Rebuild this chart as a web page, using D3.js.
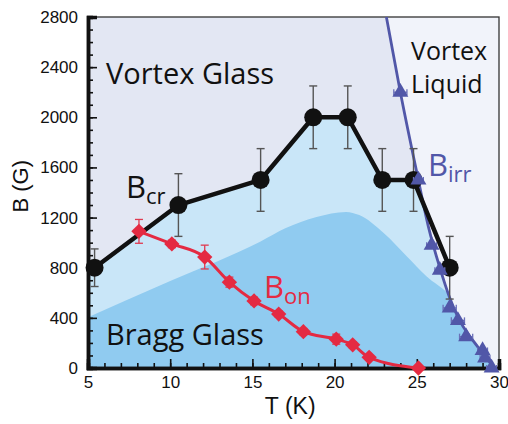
<!DOCTYPE html>
<html>
<head>
<meta charset="utf-8">
<script src="https://cdn.jsdelivr.net/npm/d3@7"></script>
<style>
  body { margin: 0; background: #fff; }
  svg text { font-family: "Liberation Sans", Arial, sans-serif; }
  .lbl { font-family: "Open Sans", Lato, sans-serif; }
</style>
</head>
<body>
<div id="fig"></div>
<script>
// B_cr (black circles)
var crT = [5.4, 10.5, 15.5, 18.7, 20.8, 22.9, 24.8, 27.0]
var crB = [800, 1300, 1500, 2000, 2000, 1500, 1500, 800]
var crErr = [150, 250, 250, 250, 250, 250, 250, 250]

// B_on (red diamonds)
var onT = [8.1, 10.1, 12.1, 13.6, 15.1, 16.6, 18.1, 20.1, 21.1, 22.1, 25.1]
var onB = [1090, 990, 885, 685, 535, 430, 290, 230, 185, 85, 0]
var onErr = [95, 30, 95, 40, 30, 25, 25, 40, 25, 20, 0]

// B_irr (blue triangles, horizontal error bars)
var irrT = [24.0, 25.1, 25.9, 26.4, 27.0, 27.5, 28.0, 29.0, 29.15, 29.55]
var irrB = [2200, 1500, 980, 780, 480, 380, 250, 140, 80, 0]
var irrErr = [0.4, 0.3, 0.3, 0.3, 0.4, 0.4, 0.4, 0.3, 0.3, 0.3]

// B_irr fit curve
var fitT = [23.15, 24.0, 25.0, 25.7, 26.4, 27.0, 27.6, 28.3, 29.0, 29.7]
var fitB = [2800, 2200, 1560, 1130, 800, 560, 380, 240, 120, 0]

// Bragg glass boundary
var bgT = [5, 10, 15.5, 17, 18.9, 20.7, 21.5, 23, 24.4, 25.6, 26.9, 30]
var bgB = [405, 694, 1010, 1115, 1205, 1245, 1220, 1075, 890, 730, 595, 0]

// left edge of the B_cr region
var crEdgeT = 5, crEdgeB = 760

var xTicks = [5, 10, 15, 20, 25, 30]
var yTicks = [0, 400, 800, 1200, 1600, 2000, 2400, 2800]

var margin = {top: 17, left: 88, right: 9, bottom: 56}
var W = 508, H = 424
var w = W - margin.left - margin.right
var h = H - margin.top - margin.bottom

var svg = d3.select("#fig").append("svg")
  .attr("width", W).attr("height", H)

var g = svg.append("g").attr("transform", `translate(${margin.left},${margin.top})`)

var x = d3.scaleLinear().domain([5, 30]).range([0, w])
var y = d3.scaleLinear().domain([0, 2800]).range([h, 0])

svg.append("defs").append("clipPath").attr("id", "plotClip")
  .append("rect").attr("width", w).attr("height", h)

var shade = g.append("g").attr("clip-path", "url(#plotClip)")

// vortex glass background
shade.append("rect").attr("width", w).attr("height", h).style("fill", "#e3e7f3")

// region under B_cr
var crPts = [[crEdgeT, crEdgeB]].concat(crT.map((t, i) => [t, crB[i]]))
shade.append("path")
  .attr("d", d3.area().x(d => x(d[0])).y0(y(0)).y1(d => y(d[1]))(crPts))
  .style("fill", "#c9e6f8")

// bragg glass region
var bgPts = bgT.map((t, i) => [t, bgB[i]])
shade.append("path")
  .attr("d", d3.area().x(d => x(d[0])).y0(y(0)).y1(d => y(d[1])).curve(d3.curveMonotoneX)(bgPts))
  .style("fill", "#90cbf0")

// vortex liquid region
var fitPts = fitT.map((t, i) => [t, fitB[i]])
var fitLine = d3.line().x(d => x(d[0])).y(d => y(d[1])).curve(d3.curveMonotoneX)
shade.append("path")
  .attr("d", fitLine(fitPts) + `L${x(30)},${y(0)}L${x(30)},${y(2800)}Z`)
  .style("fill", "#f1f3fa")

// frame (top / right)
g.append("rect").attr("width", w).attr("height", h)
  .style("fill", "none").style("stroke", "#333").style("stroke-width", 1.3)

// axes
var xMinor = g.append("g").attr("transform", `translate(0,${h})`)
  .call(d3.axisBottom(x).ticks(25).tickSize(-5).tickFormat(""))
var xAxis = g.append("g").attr("transform", `translate(0,${h})`)
  .call(d3.axisBottom(x).tickValues(xTicks).tickSize(-9).tickPadding(6).tickFormat(d3.format("d")))
var yMinor = g.append("g")
  .call(d3.axisLeft(y).ticks(28).tickSize(-5).tickFormat(""))
var yAxis = g.append("g")
  .call(d3.axisLeft(y).tickValues(yTicks).tickSize(-9).tickPadding(10).tickFormat(d3.format("d")))

;[xMinor, xAxis, yMinor, yAxis].forEach(function(a){
  a.selectAll(".tick line").style("stroke", "#111").style("stroke-width", 1.6)
  a.select(".domain").style("stroke", "#111").style("stroke-width", 3.5)
  a.selectAll("text").style("font-size", "17px").style("fill", "#111")
})
xAxis.selectAll("text").attr("dy", "0.85em")

// B_irr fit line
g.append("path").attr("clip-path", "url(#plotClip)")
  .attr("d", fitLine(fitPts))
  .style("fill", "none").style("stroke", "#5157a8").style("stroke-width", 2.8)

// B_cr error bars + line + circles
var crData = crT.map((t, i) => ({t: t, b: crB[i], e: crErr[i]}))
var crBars = g.append("g").selectAll("g").data(crData).enter().append("g")
  .style("stroke", "#555").style("stroke-width", 1.4)
crBars.append("line")
  .attr("x1", d => x(d.t)).attr("x2", d => x(d.t))
  .attr("y1", d => y(d.b - d.e)).attr("y2", d => y(d.b + d.e))
crBars.append("line")
  .attr("x1", d => x(d.t) - 4).attr("x2", d => x(d.t) + 4)
  .attr("y1", d => y(d.b + d.e)).attr("y2", d => y(d.b + d.e))
crBars.append("line")
  .attr("x1", d => x(d.t) - 4).attr("x2", d => x(d.t) + 4)
  .attr("y1", d => y(d.b - d.e)).attr("y2", d => y(d.b - d.e))

g.append("path")
  .attr("d", d3.line().x(d => x(d.t)).y(d => y(d.b))(crData))
  .style("fill", "none").style("stroke", "#111").style("stroke-width", 4.5)
  .style("stroke-linejoin", "round")

g.append("g").selectAll("circle").data(crData).enter().append("circle")
  .attr("cx", d => x(d.t)).attr("cy", d => y(d.b)).attr("r", 9)
  .style("fill", "#111")

// B_irr triangles with horizontal error bars
var irrData = irrT.map((t, i) => ({t: t, b: irrB[i], e: irrErr[i]}))
var irrBars = g.append("g").selectAll("g").data(irrData).enter().append("g")
  .style("stroke", "#6a6fb8").style("stroke-width", 1.3)
irrBars.append("line")
  .attr("x1", d => x(d.t - d.e)).attr("x2", d => x(d.t + d.e))
  .attr("y1", d => y(d.b)).attr("y2", d => y(d.b))
irrBars.append("line")
  .attr("x1", d => x(d.t - d.e)).attr("x2", d => x(d.t - d.e))
  .attr("y1", d => y(d.b) - 3).attr("y2", d => y(d.b) + 3)
irrBars.append("line")
  .attr("x1", d => x(d.t + d.e)).attr("x2", d => x(d.t + d.e))
  .attr("y1", d => y(d.b) - 3).attr("y2", d => y(d.b) + 3)

g.append("g").selectAll("path").data(irrData).enter().append("path")
  .attr("d", d3.symbol().type(d3.symbolTriangle).size(110))
  .attr("transform", d => `translate(${x(d.t)},${y(d.b)})`)
  .style("fill", "#5157a8")

// B_on line, error bars, diamonds
var onData = onT.map((t, i) => ({t: t, b: onB[i], e: onErr[i]}))
var onBars = g.append("g").selectAll("g").data(onData.filter(d => d.e > 0)).enter().append("g")
  .style("stroke", "#e0394f").style("stroke-width", 1.3)
onBars.append("line")
  .attr("x1", d => x(d.t)).attr("x2", d => x(d.t))
  .attr("y1", d => y(d.b - d.e)).attr("y2", d => y(d.b + d.e))
onBars.append("line")
  .attr("x1", d => x(d.t) - 4).attr("x2", d => x(d.t) + 4)
  .attr("y1", d => y(d.b + d.e)).attr("y2", d => y(d.b + d.e))
onBars.append("line")
  .attr("x1", d => x(d.t) - 4).attr("x2", d => x(d.t) + 4)
  .attr("y1", d => y(d.b - d.e)).attr("y2", d => y(d.b - d.e))

g.append("path")
  .attr("d", d3.line().x(d => x(d.t)).y(d => y(d.b)).curve(d3.curveMonotoneX)(onData))
  .style("fill", "none").style("stroke", "#e42a42").style("stroke-width", 3)

g.append("g").selectAll("path").data(onData).enter().append("path")
  .attr("d", d3.symbol().type(d3.symbolDiamond2).size(150))
  .attr("transform", d => `translate(${x(d.t)},${y(d.b)})`)
  .style("fill", "#e42a42")

// region labels
function label(txt, px, py, size, color) {
  return svg.append("text").attr("class", "lbl").attr("x", px).attr("y", py)
    .style("font-size", size + "px").style("fill", color).text(txt)
}
label("Vortex Glass", 106, 84, 29, "#111")
label("Vortex", 411, 60, 25, "#111")
label("Liquid", 411, 93, 25, "#111")
label("Bragg Glass", 106, 345, 29, "#111")

function sublabel(main, sub, px, py, color) {
  var t = svg.append("text").attr("class", "lbl").attr("x", px).attr("y", py)
    .style("fill", color).style("font-size", "31px")
  t.append("tspan").text(main)
  t.append("tspan").text(sub).attr("dy", 6).style("font-size", "22px")
  return t
}
sublabel("B", "cr", 126, 198, "#111")
sublabel("B", "on", 264, 298, "#e42a42")
sublabel("B", "irr", 428, 176, "#5157a8")

// axis titles
svg.append("text").attr("x", margin.left + x(17.3)).attr("y", 414)
  .attr("text-anchor", "middle").style("font-size", "23px").style("fill", "#111")
  .text("T (K)")
svg.append("text").attr("transform", `translate(28,${margin.top + y(1450)}) rotate(-90)`)
  .attr("text-anchor", "middle").style("font-size", "22px").style("fill", "#111")
  .text("B (G)")
</script>
</body>
</html>
